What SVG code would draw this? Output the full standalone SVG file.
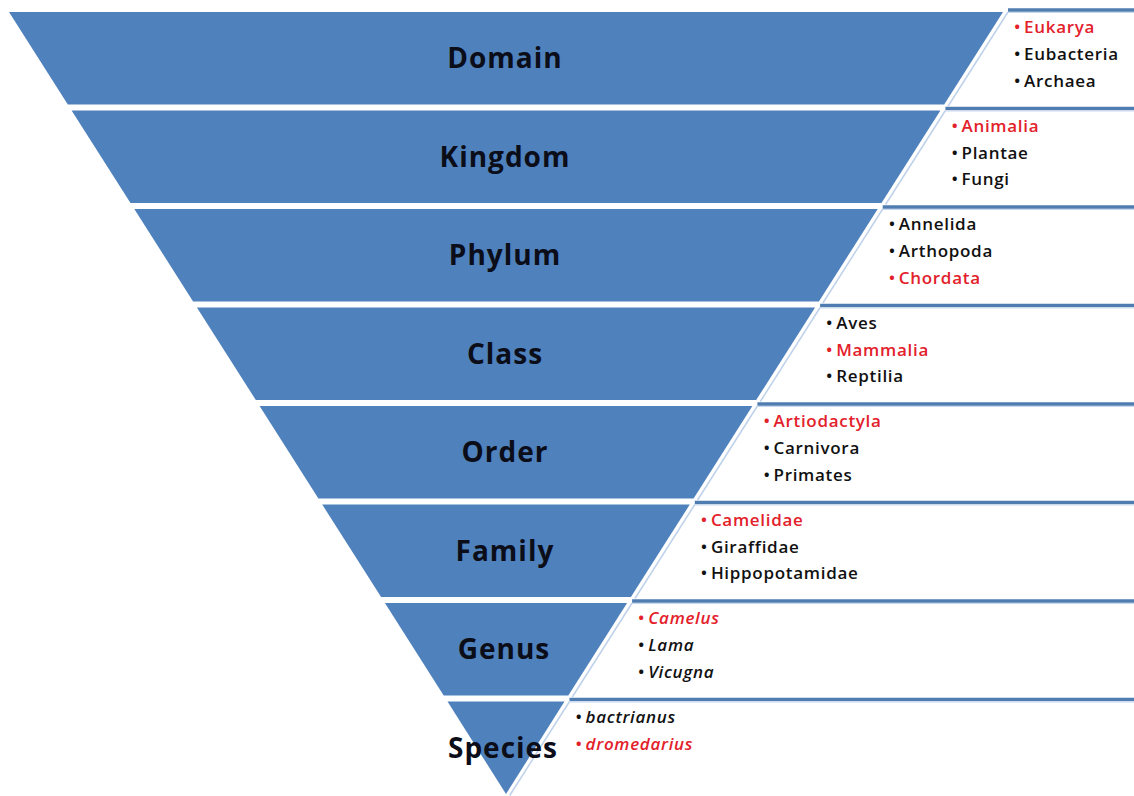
<svg xmlns="http://www.w3.org/2000/svg" width="1134" height="796" viewBox="0 0 1134 796">
<style>
.band{fill:#4f81bd}
.bar{stroke:#4f7cb1;stroke-width:3.5}
.barl{stroke:#c6d8ee;stroke-width:1}
.edge{stroke:#bed1ea;stroke-width:1.5;fill:none}
.lbl{font-family:"Open Sans","Liberation Sans",sans-serif;font-weight:bold;font-size:28px;letter-spacing:1px;fill:#0b0d18;text-anchor:middle}
.it{font-family:"Open Sans","Liberation Sans",sans-serif;font-weight:600;font-size:17px;letter-spacing:0.7px;fill:#111}
.r{fill:#e3212b}
.i{font-style:italic}
</style>
<rect width="1134" height="796" fill="#ffffff"/>
<g id="connectors">
<line class="bar" x1="1008" y1="10" x2="1134" y2="10"/>
<line class="bar" x1="945.4" y1="108.5" x2="1134" y2="108.5"/>
<line class="bar" x1="882.7" y1="207" x2="1134" y2="207"/>
<line class="bar" x1="820.1" y1="305.5" x2="1134" y2="305.5"/>
<line class="bar" x1="757.4" y1="404" x2="1134" y2="404"/>
<line class="bar" x1="694.8" y1="502.5" x2="1134" y2="502.5"/>
<line class="bar" x1="632.1" y1="601" x2="1134" y2="601"/>
<line class="bar" x1="569.5" y1="699.5" x2="1134" y2="699.5"/>
<line class="barl" x1="1008" y1="12.5" x2="1134" y2="12.5"/>
<line class="barl" x1="945.4" y1="111" x2="1134" y2="111"/>
<line class="barl" x1="882.7" y1="209.5" x2="1134" y2="209.5"/>
<line class="barl" x1="820.1" y1="308" x2="1134" y2="308"/>
<line class="barl" x1="757.4" y1="406.5" x2="1134" y2="406.5"/>
<line class="barl" x1="694.8" y1="505" x2="1134" y2="505"/>
<line class="barl" x1="632.1" y1="603.5" x2="1134" y2="603.5"/>
<line class="barl" x1="569.5" y1="702" x2="1134" y2="702"/>
<line class="edge" x1="1008" y1="12" x2="948.2" y2="106"/>
<line class="edge" x1="945.4" y1="110.5" x2="885.6" y2="204.5"/>
<line class="edge" x1="882.7" y1="209" x2="822.9" y2="303"/>
<line class="edge" x1="820.1" y1="307.5" x2="760.3" y2="401.5"/>
<line class="edge" x1="757.4" y1="406" x2="697.6" y2="500"/>
<line class="edge" x1="694.8" y1="504.5" x2="635" y2="598.5"/>
<line class="edge" x1="632.1" y1="603" x2="572.3" y2="697"/>
<line class="edge" x1="569.5" y1="701.5" x2="509.7" y2="795.5"/>
</g>
<g id="domain">
<polygon class="band" points="9,12 1003,12 944.2,104.5 67.8,104.5"/>
<text class="lbl" x="505" y="67.5">Domain</text>
<text class="it r" x="1014" y="33">•<tspan dx="3">Eukarya</tspan></text>
<text class="it" x="1014" y="60">•<tspan dx="3">Eubacteria</tspan></text>
<text class="it" x="1014" y="86.5">•<tspan dx="3">Archaea</tspan></text>
</g>
<g id="kingdom">
<polygon class="band" points="71.6,110.5 940.4,110.5 881.5,203 130.5,203"/>
<text class="lbl" x="505" y="166.5">Kingdom</text>
<text class="it r" x="951.4" y="131.5">•<tspan dx="3">Animalia</tspan></text>
<text class="it" x="951.4" y="158.5">•<tspan dx="3">Plantae</tspan></text>
<text class="it" x="951.4" y="185">•<tspan dx="3">Fungi</tspan></text>
</g>
<g id="phylum">
<polygon class="band" points="134.3,209 877.7,209 818.9,301.5 193.1,301.5"/>
<text class="lbl" x="505" y="265">Phylum</text>
<text class="it" x="888.7" y="230">•<tspan dx="3">Annelida</tspan></text>
<text class="it" x="888.7" y="257">•<tspan dx="3">Arthopoda</tspan></text>
<text class="it r" x="888.7" y="283.5">•<tspan dx="3">Chordata</tspan></text>
</g>
<g id="class">
<polygon class="band" points="196.9,307.5 815.1,307.5 756.2,400 255.8,400"/>
<text class="lbl" x="505" y="363.5">Class</text>
<text class="it" x="826.1" y="328.5">•<tspan dx="3">Aves</tspan></text>
<text class="it r" x="826.1" y="355.5">•<tspan dx="3">Mammalia</tspan></text>
<text class="it" x="826.1" y="382">•<tspan dx="3">Reptilia</tspan></text>
</g>
<g id="order">
<polygon class="band" points="259.6,406 752.4,406 693.6,498.5 318.4,498.5"/>
<text class="lbl" x="505" y="462">Order</text>
<text class="it r" x="763.4" y="427">•<tspan dx="3">Artiodactyla</tspan></text>
<text class="it" x="763.4" y="454">•<tspan dx="3">Carnivora</tspan></text>
<text class="it" x="763.4" y="480.5">•<tspan dx="3">Primates</tspan></text>
</g>
<g id="family">
<polygon class="band" points="322.2,504.5 689.8,504.5 630.9,597 381.1,597"/>
<text class="lbl" x="505" y="560.5">Family</text>
<text class="it r" x="700.8" y="525.5">•<tspan dx="3">Camelidae</tspan></text>
<text class="it" x="700.8" y="552.5">•<tspan dx="3">Giraffidae</tspan></text>
<text class="it" x="700.8" y="579">•<tspan dx="3">Hippopotamidae</tspan></text>
</g>
<g id="genus">
<polygon class="band" points="384.9,603 627.1,603 568.3,695.5 443.7,695.5"/>
<text class="lbl" x="504" y="659">Genus</text>
<text class="it r" x="638.1" y="624">•<tspan class="i" dx="3">Camelus</tspan></text>
<text class="it" x="638.1" y="651">•<tspan class="i" dx="3">Lama</tspan></text>
<text class="it" x="638.1" y="677.5">•<tspan class="i" dx="3">Vicugna</tspan></text>
</g>
<g id="species">
<polygon class="band" points="447.5,701.5 564.5,701.5 506,794"/>
<text class="lbl" x="503" y="758">Species</text>
<text class="it" x="575.5" y="722.5">•<tspan class="i" dx="3">bactrianus</tspan></text>
<text class="it r" x="575.5" y="749.5">•<tspan class="i" dx="3">dromedarius</tspan></text>
</g>
</svg>
